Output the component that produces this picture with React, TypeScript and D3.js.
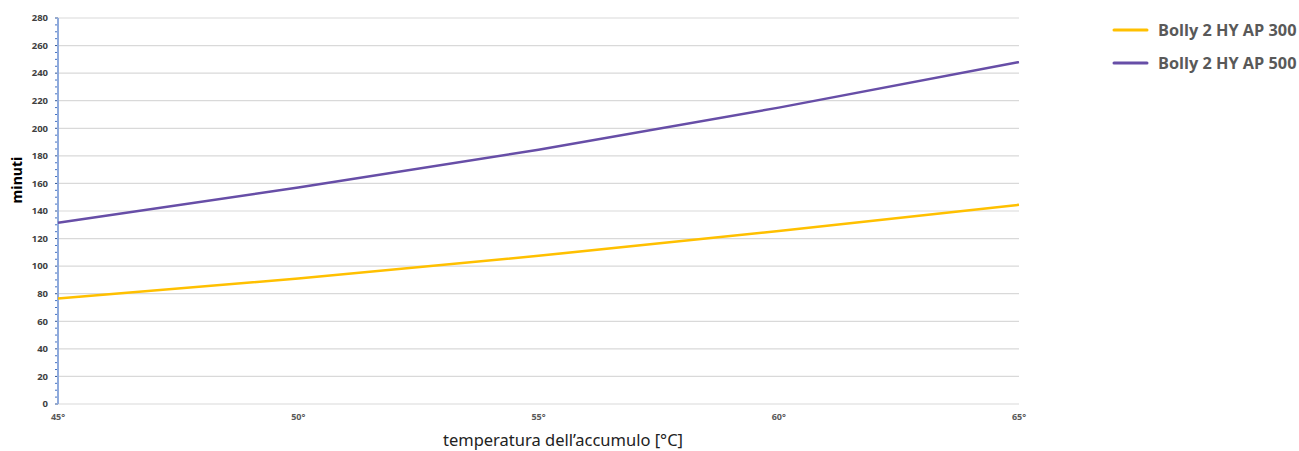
import React, { useRef, useEffect } from 'react';
import * as d3 from 'd3';

const temps = [45, 50, 55, 60, 65];
const ap300 = [76.5, 91, 107.5, 125.5, 144.5];
const ap500 = [131.5, 157, 184.5, 215, 248];
const yTicks = [0, 20, 40, 60, 80, 100, 120, 140, 160, 180, 200, 220, 240, 260, 280];
const seriesNames = ['Bolly 2 HY AP 300', 'Bolly 2 HY AP 500'];
const seriesColors = ['#FFC000', '#674EA7'];

const W = 1299;
const H = 451;
const margin = { left: 58, right: 280, top: 18, bottom: 47 };

const App: React.FC = () => {
  const svgRef = useRef<SVGSVGElement | null>(null);

  useEffect(() => {
    if (!svgRef.current) return;
    const svg = d3.select(svgRef.current);
    svg.selectAll('*').remove();

    const x = d3.scaleLinear().domain([45, 65]).range([margin.left, W - margin.right]);
    const y = d3.scaleLinear().domain([0, 280]).range([H - margin.bottom, margin.top]);

    // gridlines
    svg.append('g')
      .selectAll('line')
      .data(yTicks)
      .enter()
      .append('line')
      .attr('x1', margin.left)
      .attr('x2', W - margin.right)
      .attr('y1', d => y(d))
      .attr('y2', d => y(d))
      .attr('stroke', '#d9d9d9')
      .attr('stroke-width', 1.2);

    // y axis with minor ticks
    const minor = d3.range(0, 281, 5);
    svg.append('g')
      .selectAll('line')
      .data(minor)
      .enter()
      .append('line')
      .attr('x1', margin.left - 3)
      .attr('x2', margin.left)
      .attr('y1', d => y(d))
      .attr('y2', d => y(d))
      .attr('stroke', d => (d % 20 === 0 ? '#2f5597' : '#4472c4'))
      .attr('stroke-width', 1);
    svg.append('line')
      .attr('x1', margin.left)
      .attr('x2', margin.left)
      .attr('y1', y(280))
      .attr('y2', y(0))
      .attr('stroke', '#8faadc')
      .attr('stroke-width', 2);

    svg.append('g')
      .selectAll('text')
      .data(yTicks)
      .enter()
      .append('text')
      .attr('x', 48)
      .attr('y', d => y(d))
      .attr('dy', '0.35em')
      .attr('text-anchor', 'end')
      .attr('font-family', 'Open Sans, sans-serif')
      .attr('font-weight', 'bold')
      .attr('font-size', 9.5)
      .attr('fill', '#404040')
      .text(d => d);

    svg.append('g')
      .selectAll('text')
      .data(temps)
      .enter()
      .append('text')
      .attr('x', d => x(d))
      .attr('y', y(0) + 16)
      .attr('text-anchor', 'middle')
      .attr('font-family', 'Open Sans, sans-serif')
      .attr('font-weight', 'bold')
      .attr('font-size', 9)
      .attr('fill', '#595959')
      .text(d => `${d}°`);

    const line = d3.line<number>()
      .x((_, i) => x(temps[i]))
      .y(d => y(d))
      .curve(d3.curveMonotoneX);

    [ap300, ap500].forEach((s, i) => {
      svg.append('path')
        .attr('d', line(s) || '')
        .attr('fill', 'none')
        .attr('stroke', seriesColors[i])
        .attr('stroke-width', 2.5);
    });

    // axis titles
    svg.append('text')
      .attr('transform', 'translate(22,180) rotate(-90)')
      .attr('text-anchor', 'middle')
      .attr('font-family', 'Open Sans, sans-serif')
      .attr('font-weight', 'bold')
      .attr('font-size', 14)
      .attr('fill', '#000')
      .text('minuti');

    svg.append('text')
      .attr('x', 563)
      .attr('y', 446)
      .attr('text-anchor', 'middle')
      .attr('font-family', 'Noto Sans, sans-serif')
      .attr('font-size', 16.5)
      .attr('fill', '#222')
      .text('temperatura dell’accumulo [°C]');

    // legend
    const leg = svg.append('g');
    seriesNames.forEach((n, i) => {
      const ly = 30 + i * 33;
      leg.append('line')
        .attr('x1', 1114)
        .attr('x2', 1147)
        .attr('y1', ly)
        .attr('y2', ly)
        .attr('stroke', seriesColors[i])
        .attr('stroke-width', 3)
        .attr('stroke-linecap', 'round');
      leg.append('text')
        .attr('x', 1158)
        .attr('y', ly)
        .attr('dy', '0.35em')
        .attr('font-family', 'Open Sans, sans-serif')
        .attr('font-weight', 'bold')
        .attr('font-size', 16.3)
        .attr('fill', '#595959')
        .text(n);
    });
  }, []);

  return (
    <svg
      ref={svgRef}
      width={W}
      height={H}
      style={{ position: 'absolute', left: 0, top: 0, background: '#fff' }}
    ></svg>
  );
};

export default App;
